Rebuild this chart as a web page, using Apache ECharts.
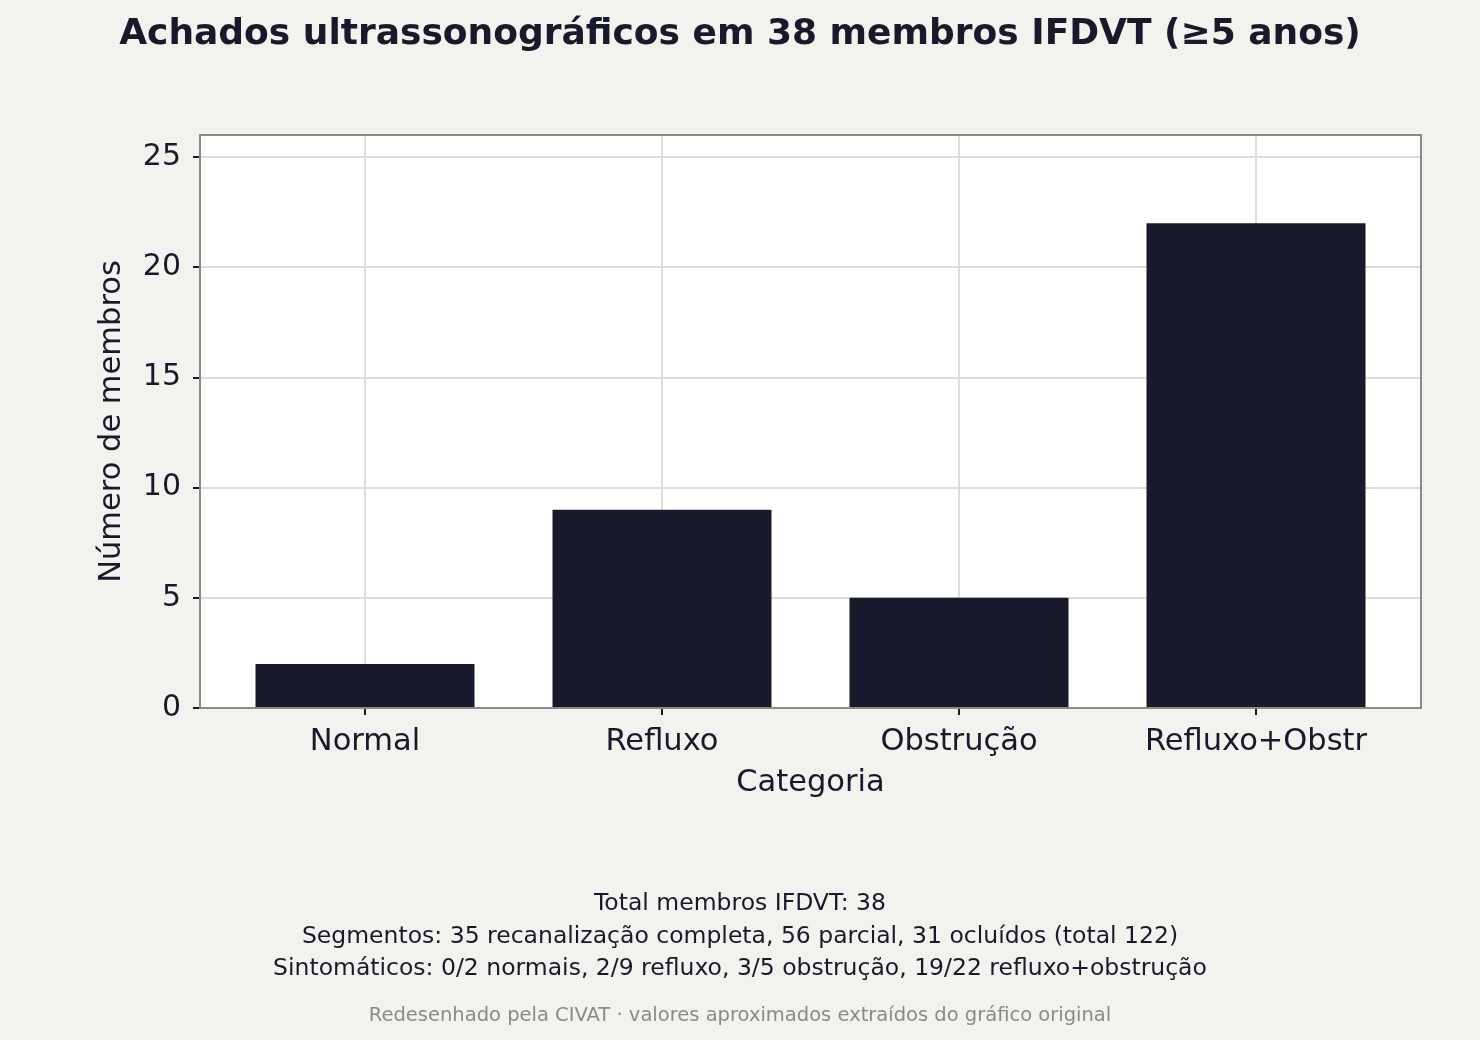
<!DOCTYPE html>
<html>
<head>
<meta charset="utf-8">
<script src="https://cdn.jsdelivr.net/npm/echarts@6/dist/echarts.min.js"></script>
<style>
  html, body { margin: 0; padding: 0; background: #f3f2ee; }
  #main { width: 1480px; height: 1040px; }
</style>
</head>
<body>
<div id="main"></div>
<script>
// dados
var categorias = ['Normal', 'Refluxo', 'Obstrução', 'Refluxo+Obstr'];
var membros = [2, 9, 5, 22];
var yTicks = [0, 5, 10, 15, 20, 25];
var rodape = [
  'Total membros IFDVT: 38',
  'Segmentos: 35 recanalização completa, 56 parcial, 31 ocluídos (total 122)',
  'Sintomáticos: 0/2 normais, 2/9 refluxo, 3/5 obstrução, 19/22 refluxo+obstrução'
];
var credito = 'Redesenhado pela CIVAT · valores aproximados extraídos do gráfico original';

var ink = '#181a2b';
var frame = '#8c8a82';
var font = 'DejaVu Sans';

// linhas do rodapé, uma por título para ficarem centradas
var titulos = [
  {
    text: 'Achados ultrassonográficos em 38 membros IFDVT (≥5 anos)',
    left: 'center', top: 12,
    textStyle: { fontFamily: font, fontSize: 36, fontWeight: 'bold', color: ink }
  }
];
rodape.forEach(function (linha, i) {
  titulos.push({
    text: linha, left: 'center', top: 887 + i * 32.5,
    textStyle: { fontFamily: font, fontSize: 23.5, fontWeight: 'normal', color: ink }
  });
});
titulos.push({
  text: credito, left: 'center', top: 1001,
  textStyle: { fontFamily: font, fontSize: 19.5, fontWeight: 'normal', color: '#8a8a8a' }
});

function borda(pos, tipo) {
  var ax = {
    gridIndex: 0, type: 'value', min: 0, max: tipo === 'x' ? 1 : 26, position: pos, z: 3,
    axisLine: { show: true, onZero: false, lineStyle: { color: frame, width: 2 } },
    axisTick: { show: false }, axisLabel: { show: false }, splitLine: { show: false }
  };
  return ax;
}

var chart = echarts.init(document.getElementById('main'));
chart.setOption({
  backgroundColor: '#f3f2ee',
  textStyle: { fontFamily: font, color: ink },
  title: titulos,
  grid: [
    { // moldura
      left: 200, top: 135, width: 1221, height: 573,
      show: true, backgroundColor: '#ffffff', borderWidth: 0
    },
    { // barras
      left: 216.5, top: 135, width: 1188, height: 573, show: false
    }
  ],
  xAxis: [
    borda('bottom', 'x'),
    {
      gridIndex: 1, type: 'category', data: categorias,
      name: 'Categoria', nameLocation: 'middle', nameGap: 60,
      nameTextStyle: { fontFamily: font, fontSize: 30.5, color: ink },
      axisLine: { show: false },
      axisTick: { show: true, alignWithLabel: true, inside: false, length: 7, lineStyle: { color: ink, width: 2 } },
      axisLabel: { fontFamily: font, fontSize: 30.5, color: ink, margin: 19 },
      splitLine: { show: true, alignWithLabel: true, lineStyle: { color: '#dddcd7', width: 2 } }
    },
    borda('top', 'x')
  ],
  yAxis: [
    {
      gridIndex: 0, type: 'value', min: 0, max: 26, interval: 5,
      name: 'Número de membros', nameLocation: 'middle', nameGap: 72,
      nameTextStyle: { fontFamily: font, fontSize: 30.5, color: ink },
      axisLine: { show: false },
      axisTick: { show: true, inside: false, length: 7, lineStyle: { color: ink, width: 2 } },
      axisLabel: {
        fontFamily: font, fontSize: 30, color: ink, margin: 19, showMaxLabel: false,
        formatter: function (v) { return yTicks.indexOf(v) >= 0 ? String(v) : ''; }
      },
      splitLine: { show: true, lineStyle: { color: '#dddcd7', width: 2 } }
    },
    { gridIndex: 1, type: 'value', min: 0, max: 26, show: false },
    borda('left', 'y'),
    borda('right', 'y')
  ],
  series: [
    {
      type: 'bar', xAxisIndex: 1, yAxisIndex: 1,
      data: membros, barWidth: 219,
      itemStyle: { color: ink },
      z: 2
    }
  ]
});
</script>
</body>
</html>
